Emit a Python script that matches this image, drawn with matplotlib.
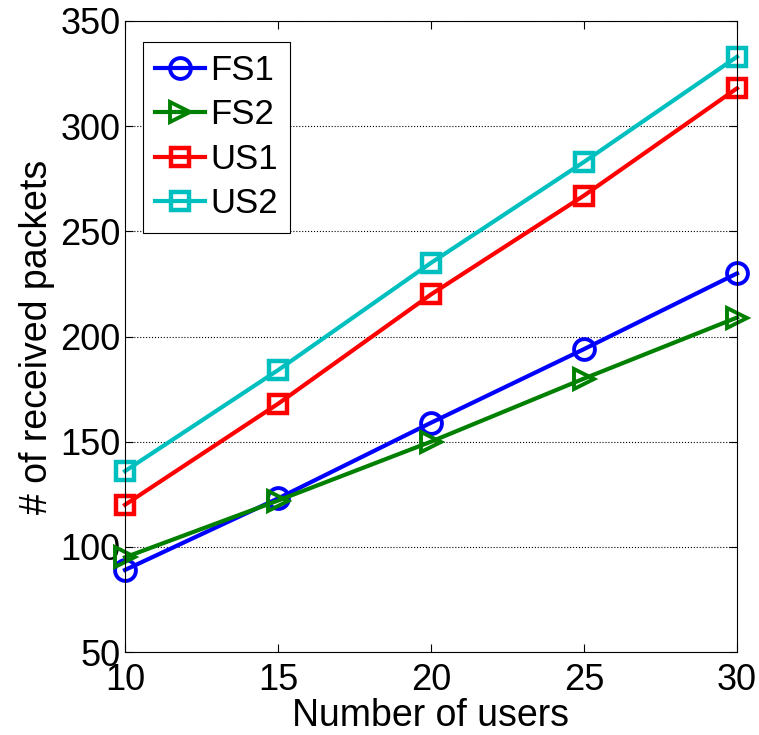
import matplotlib
matplotlib.use("Agg")
import matplotlib.pyplot as plt

plt.rcParams['font.family'] = ['Liberation Sans', 'DejaVu Sans']

users = [10, 15, 20, 25, 30]
fs1 = [89, 123, 159, 194, 230]
fs2 = [95, 122, 150, 180, 209]
us1 = [120, 168, 220, 267, 318]
us2 = [136, 184, 235, 283, 333]

fig = plt.figure(figsize=(7.59, 7.35), dpi=100)
ax = fig.add_axes([125/759, 1 - 652/735, (737-125)/759, (652-21)/735])

lw = 3
ms = 15
mew = 2.8
ax.plot(users, fs1, color='#0000ff', marker='o', lw=lw, ms=ms, mew=mew, mfc='none', label='FS1', clip_on=False)
ax.plot(users, fs2, color='#008000', marker='>', lw=lw, ms=ms, mew=mew, mfc='none', label='FS2', clip_on=False)
ax.plot(users, us1, color='#ff0000', marker='s', lw=lw, ms=ms-2, mew=mew+0.4, mfc='none', label='US1', clip_on=False)
ax.plot(users, us2, color='#00bfbf', marker='s', lw=lw, ms=ms-2, mew=mew+0.4, mfc='none', label='US2', clip_on=False)

ax.set_xlim(10, 30)
ax.set_ylim(50, 350)
ax.set_xticks(users)
ax.set_yticks(range(50, 351, 50))
ax.yaxis.grid(True, linestyle=':', color='black', lw=0.8)
ax.tick_params(direction='in', top=True, right=True, labelsize=26, length=6, pad=3)
ax.tick_params(axis='x', pad=8)
for s in ax.spines.values():
    s.set_linewidth(0.8)
ax.set_xlabel('Number of users', fontsize=27, labelpad=0)
ax.set_ylabel('# of received packets', fontsize=27, labelpad=4)

leg = ax.legend(loc='upper left', fontsize=25, bbox_to_anchor=(0.029, 0.967),
                fancybox=False, edgecolor='black', framealpha=1,
                handlelength=1.45, handletextpad=0.15, labelspacing=0.33, borderpad=0.35,
                borderaxespad=0)
leg.get_frame().set_linewidth(0.8)

fig.savefig('out.png', dpi=100)
